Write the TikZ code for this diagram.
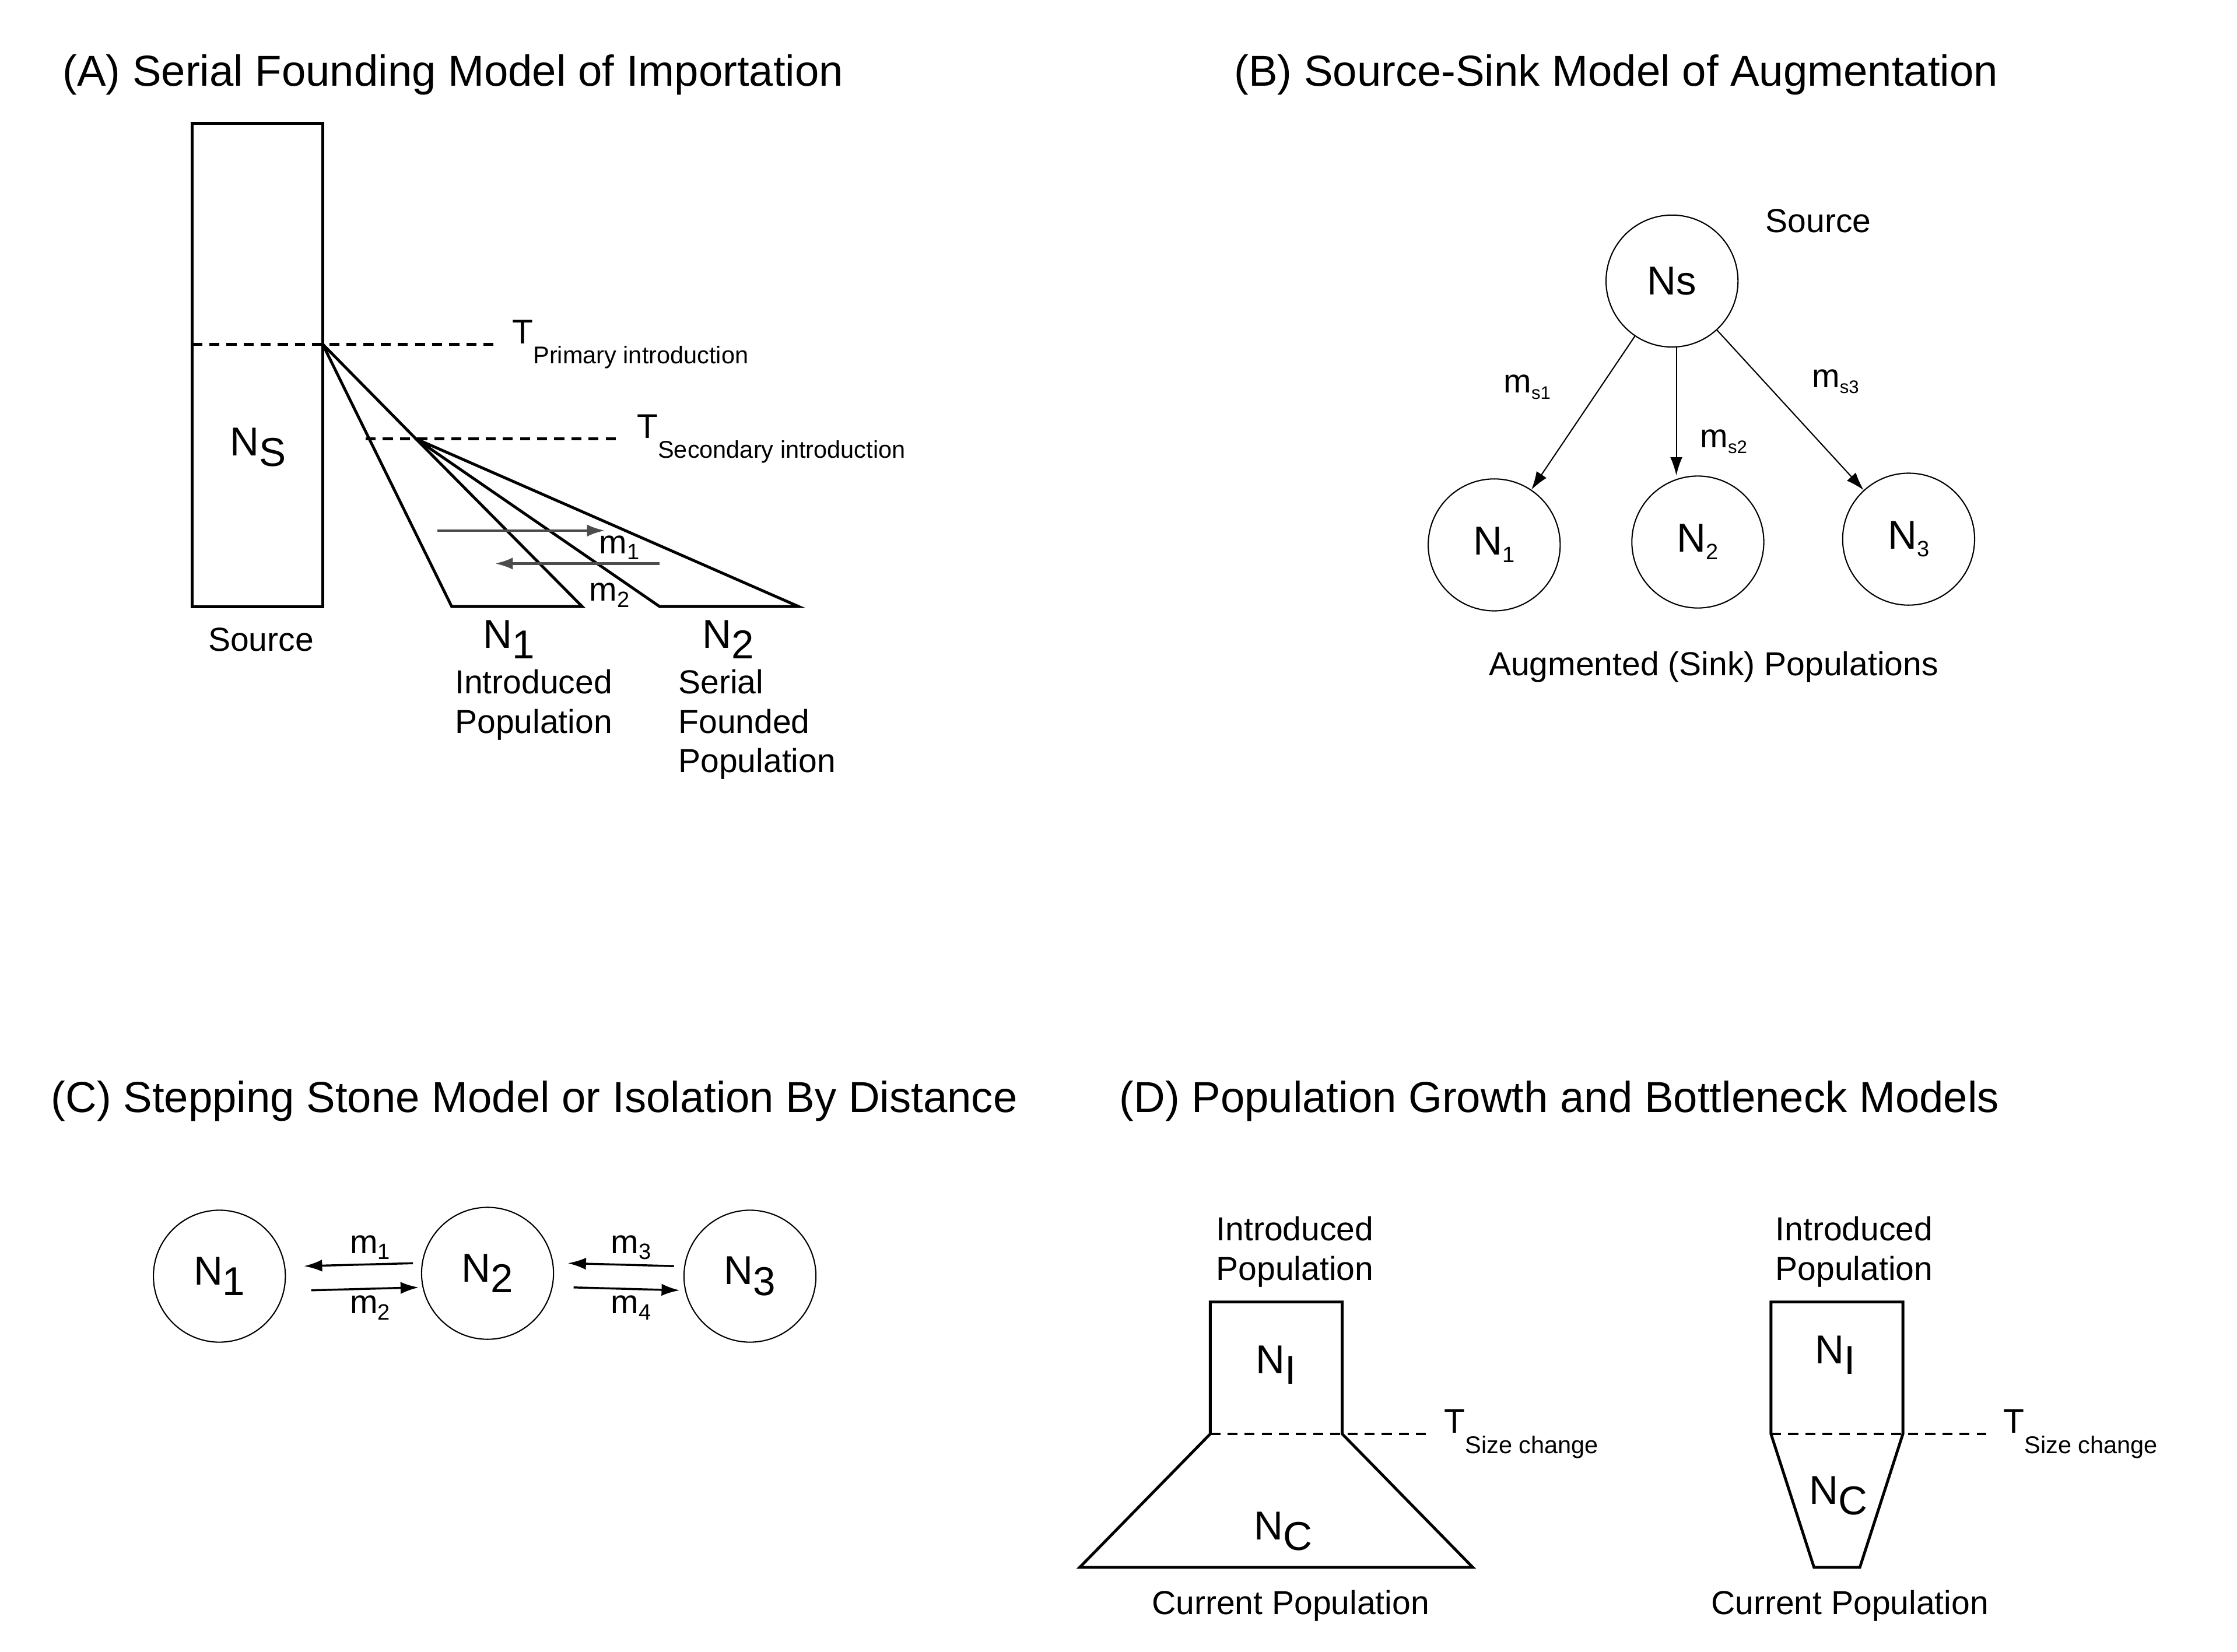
\documentclass[tikz,border=0pt]{standalone}
\usepackage{fontspec}
\setmainfont{Liberation Sans}
\usetikzlibrary{arrows.meta,positioning}
\newcommand{\lowtxt}[2][0.35ex]{\raisebox{-#1}{#2}}
\begin{document}
\begin{tikzpicture}[x=0.025cm,y=-0.025cm, line width=1.4pt,
    panel/.style={anchor=west, font=\fontsize{21.5}{24}\selectfont},
    txt/.style={font=\fontsize{16.5}{19.5}\selectfont, inner sep=1pt},
    big/.style={font=\fontsize{20}{22}\selectfont, inner sep=1pt},
    pop/.style={circle, draw, line width=0.6pt, minimum size=2.3cm, font=\fontsize{20}{22}\selectfont},
    tlab/.style={anchor=west, font=\fontsize{17}{19}\selectfont, inner sep=0pt},
    dsh/.style={dash pattern=on 5pt off 3.5pt, line width=1.4pt},
    mig/.style={-{Latex[length=9pt,width=6pt]}, line width=1pt}]
\useasboundingbox (0,0) rectangle (1560,1152);

% (A)
\node[panel] (titleA) at (38,52) {(A) Serial Founding Model of Importation};
\draw (134,86) rectangle (225,423);
\coordinate (apexP) at (225,240); \coordinate (apexS) at (290,306);
\draw[dsh] (134,240) -- (345,240) coordinate (tP);
\draw[dsh] (255,306) -- (432,306) coordinate (tS);
\node[tlab] at ([xshift=8]tP) {T\lowtxt[1.1ex]{\fontsize{12}{14}\selectfont Primary introduction}};
\node[tlab] at ([xshift=8]tS) {T\lowtxt[1.1ex]{\fontsize{12}{14}\selectfont Secondary introduction}};
\draw (apexP) -- (315,423) -- (406,423) -- (apexS) -- (apexP);
\draw (apexS) -- (460,423) -- (557,423) -- (apexS);
\draw[mig, gray!60!black, line width=1.3pt] (305,370) -- (422,370);
\draw[mig, gray!60!black, line width=1.3pt] (460,393) -- (345,393);
\node[txt] (m1A) at (432,382) {m\lowtxt{\fontsize{11}{12}\selectfont 1}};
\node[txt] (m2A) at (425,415) {m\lowtxt{\fontsize{11}{12}\selectfont 2}};
\node[big] (NsA) at (180,312) {N\lowtxt[0.5ex]{S}};
\node[txt] (srcA) at (182,446) {Source};
\node[big] (N1A) at (355,446) {N\lowtxt[0.5ex]{1}};
\node[big] (N2A) at (508,446) {N\lowtxt[0.5ex]{2}};
\node[txt, below=2pt of N1A.south west, anchor=north west, align=left, xshift=-14] (intA) {Introduced\\Population};
\node[txt, below=2pt of N2A.south west, anchor=north west, align=left, xshift=-12] (serA) {Serial\\Founded\\Population};

% (B)
\node[panel] (titleB) at (855,52) {(B) Source-Sink Model of Augmentation};
\node[pop] (Ns) at (1166,196) {Ns};
\node[pop] (N1B) at (1042,380) {N\lowtxt{\fontsize{11}{12}\selectfont 1}};
\node[pop] (N2B) at (1184,378) {N\lowtxt{\fontsize{11}{12}\selectfont 2}};
\node[pop] (N3B) at (1331,376) {N\lowtxt{\fontsize{11}{12}\selectfont 3}};
\node[txt] (srcB) at (1268,154) {Source};
\draw[mig, line width=0.6pt] (Ns) -- (N1B);
\draw[mig, line width=0.6pt] (Ns.south -| 1169,0) -- (N2B.north -| 1169,0);
\draw[mig, line width=0.6pt] (Ns) -- (N3B);
\node[txt] (ms1) at (1065,270) {m\lowtxt{\fontsize{9}{10}\selectfont s1}};
\node[txt] (ms2) at (1202,308) {m\lowtxt{\fontsize{9}{10}\selectfont s2}};
\node[txt] (ms3) at (1280,266) {m\lowtxt{\fontsize{9}{10}\selectfont s3}};
\node[txt] (augB) at (1195,465) {Augmented (Sink) Populations};

% (C)
\node[panel] (titleC) at (30,768) {(C) Stepping Stone Model or Isolation By Distance};
\node[pop] (N1C) at (153,890) {N\lowtxt[0.5ex]{1}};
\node[pop] (N2C) at (340,888) {N\lowtxt[0.5ex]{2}};
\node[pop] (N3C) at (523,890) {N\lowtxt[0.5ex]{3}};
\draw[mig] ([yshift=5]N2C.west -| 288,0) -- ([yshift=5]N1C.east -| 212,0);
\draw[mig] ([yshift=-7]N1C.east -| 217,0) -- ([yshift=-7]N2C.west -| 292,0);
\draw[mig] ([yshift=5]N3C.west -| 470,0) -- ([yshift=5]N2C.east -| 396,0);
\draw[mig] ([yshift=-7]N2C.east -| 400,0) -- ([yshift=-7]N3C.west -| 474,0);
\node[txt] (m1C) at (258,870) {m\lowtxt{\fontsize{11}{12}\selectfont 1}};
\node[txt] (m2C) at (258,912) {m\lowtxt{\fontsize{11}{12}\selectfont 2}};
\node[txt] (m3C) at (440,870) {m\lowtxt{\fontsize{11}{12}\selectfont 3}};
\node[txt] (m4C) at (440,912) {m\lowtxt{\fontsize{11}{12}\selectfont 4}};

% (D)
\node[panel] (titleD) at (775,768) {(D) Population Growth and Bottleneck Models};
\draw (844,1000) -- (844,908) -- (936,908) -- (936,1000) -- (1027,1093) -- (753,1093) -- cycle;
\draw[dsh] (844,1000) -- (995,1000) coordinate (tG);
\node[tlab] at ([xshift=8]tG) {T\lowtxt[1.1ex]{\fontsize{12}{14}\selectfont Size change}};
\node[big] (NIg) at (890,952) {N\lowtxt[0.5ex]{I}};
\node[big] (NCg) at (895,1068) {N\lowtxt[0.5ex]{C}};
\node[txt, align=center] (intG) at (903,873) {Introduced\\Population};
\node[txt] (curG) at (900,1120) {Current Population};
\draw (1235,1000) -- (1235,908) -- (1327,908) -- (1327,1000) -- (1297,1093) -- (1265,1093) -- cycle;
\draw[dsh] (1235,1000) -- (1385,1000) coordinate (tB);
\node[tlab] at ([xshift=8]tB) {T\lowtxt[1.1ex]{\fontsize{12}{14}\selectfont Size change}};
\node[big] (NIb) at (1280,945) {N\lowtxt[0.5ex]{I}};
\node[big] (NCb) at (1282,1043) {N\lowtxt[0.5ex]{C}};
\node[txt, align=center] (intB) at (1293,873) {Introduced\\Population};
\node[txt] (curB) at (1290,1120) {Current Population};
\end{tikzpicture}
\end{document}
